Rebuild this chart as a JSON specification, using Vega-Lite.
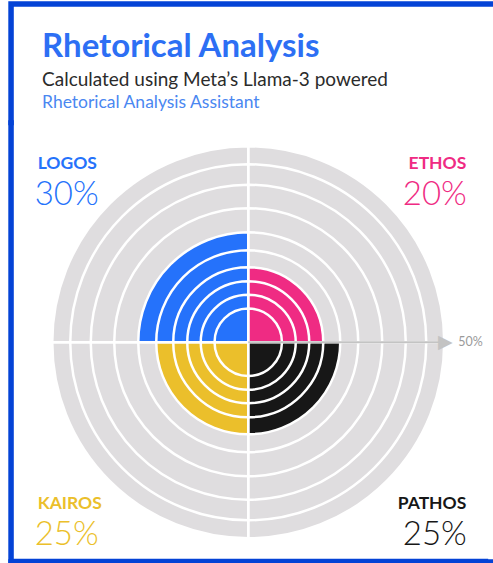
{
  "$schema": "https://vega.github.io/schema/vega-lite/v6.json",
  "autosize": {"type": "pad"},
  "padding": {"left": 7.05, "top": 0.05, "right": 0, "bottom": 0.5},
  "background": "white",
  "spacing": 0,
  "bounds": "flush",
  "config": {"font": "Lato", "view": {"stroke": null}},
  "datasets": {
    "shares": [
      {"cat": "ETHOS", "pct": 0.20, "hi": [0.05, 0.1, 0.15, 0.2, 0.25, 0.3, 0.35, 0.4, 0.45, 0.5]},
      {"cat": "PATHOS", "pct": 0.25, "hi": [0.05, 0.1, 0.15, 0.2, 0.25, 0.3, 0.35, 0.4, 0.45, 0.5]},
      {"cat": "KAIROS", "pct": 0.25, "hi": [0.05, 0.1, 0.15, 0.2, 0.25, 0.3, 0.35, 0.4, 0.45, 0.5]},
      {"cat": "LOGOS", "pct": 0.30, "hi": [0.05, 0.1, 0.15, 0.2, 0.25, 0.3, 0.35, 0.4, 0.45, 0.5]}
    ],
    "scaleMax": [{"v": 0.5}]
  },
  "vconcat": [
    {
      "width": 480.4,
      "height": 118.5,
      "data": {"values": []},
      "mark": "text",
      "view": {"stroke": "#0443d6", "strokeWidth": 5.5, "strokeCap": "square", "strokeDash": [480.4, 598.9, 118.5, 0]},
      "title": {
        "text": "Rhetorical Analysis",
        "subtitle": "Calculated using Meta’s Llama-3 powered",
        "anchor": "start",
        "frame": "group",
        "orient": "top",
        "offset": -86.2,
        "dx": 31,
        "font": "Lato",
        "fontSize": 33,
        "fontWeight": "bold",
        "color": "#2d6ff4",
        "subtitleFont": "Lato",
        "subtitleFontSize": 19,
        "subtitleColor": "#2b2b2b",
        "subtitlePadding": 7
      }
    },
    {
      "width": 474.4,
      "height": 438.4,
      "view": {"stroke": "#0443d6", "strokeWidth": 5.5, "strokeCap": "square", "strokeDash": [0, 912.8, 912.8, 0]},
      "title": {
        "text": "Rhetorical Analysis Assistant",
        "anchor": "start",
        "frame": "group",
        "orient": "top",
        "offset": 11.5,
        "dx": 31,
        "font": "Lato",
        "fontSize": 17.5,
        "fontWeight": "normal",
        "color": "#4a87f1"
      },
      "data": {"name": "shares"},
      "layer": [
        {
          "transform": [{"flatten": ["hi"]}],
          "mark": {"type": "arc", "stroke": "white", "strokeWidth": 2.5},
          "encoding": {
            "theta": {"field": "cat", "type": "nominal", "sort": ["ETHOS", "PATHOS", "KAIROS", "LOGOS"],
              "scale": {"type": "band", "paddingInner": 0, "paddingOuter": 0, "range": [0, 6.283185307]}},
            "radius": {"field": "hi", "type": "quantitative",
              "scale": {"type": "linear", "domain": [0, 0.05, 0.1, 0.15, 0.2, 0.25, 0.3, 0.35, 0.4, 0.45, 0.5],
                "range": [0, 33.7, 47.5, 61, 75, 92, 110, 134, 157.5, 178, 196], "nice": false}},
            "radius2": {"datum": 0},
            "color": {
              "condition": {"test": "datum.hi > datum.pct", "value": "#dfdddf"},
              "field": "cat", "type": "nominal",
              "scale": {"domain": ["ETHOS", "PATHOS", "KAIROS", "LOGOS"], "range": ["#ef2b83", "#171717", "#ebbf2b", "#2572fb"]},
              "legend": null
            },
            "order": {"field": "hi", "sort": "descending"}
          }
        },
        {
          "data": {"name": "scaleMax"},
          "mark": {"type": "arc", "theta": 1.5708, "theta2": 1.5708, "filled": false, "color": "#c3c3c3", "strokeWidth": 2},
          "encoding": {"radius": {"field": "v", "type": "quantitative"}, "radius2": {"datum": 0}}
        },
        {
          "data": {"name": "scaleMax"},
          "mark": {"type": "text", "theta": 1.5708, "font": "DejaVu Sans", "fontSize": 19, "color": "#c3c3c3", "align": "center", "baseline": "middle", "dx": 1},
          "encoding": {"radius": {"field": "v", "type": "quantitative"}, "text": {"value": "▶"}}
        },
        {
          "data": {"name": "scaleMax"},
          "mark": {"type": "text", "theta": 1.5708, "font": "Lato", "fontSize": 12.5, "color": "#9a9a9a", "align": "left", "baseline": "middle", "dx": 14},
          "encoding": {"radius": {"field": "v", "type": "quantitative"}, "text": {"field": "v", "type": "quantitative", "format": ".0%"}}
        },
        {
          "transform": [{"filter": {"field": "cat", "oneOf": ["LOGOS", "KAIROS"]}}],
          "mark": {"type": "text", "radius": 239.8, "align": "left", "baseline": "alphabetic", "dx": -41, "dy": -3.25, "font": "Lato", "fontSize": 17.5, "fontWeight": "bold"},
          "encoding": {
            "theta": {"field": "cat", "type": "nominal", "sort": ["ETHOS", "PATHOS", "KAIROS", "LOGOS"], "bandPosition": 0.5},
            "text": {"field": "cat", "type": "nominal"},
            "color": {"field": "cat", "type": "nominal", "legend": null}
          }
        },
        {
          "transform": [{"filter": {"field": "cat", "oneOf": ["ETHOS", "PATHOS"]}}],
          "mark": {"type": "text", "radius": 239.8, "align": "right", "baseline": "alphabetic", "dx": 48.5, "dy": -3.25, "font": "Lato", "fontSize": 17.5, "fontWeight": "bold"},
          "encoding": {
            "theta": {"field": "cat", "type": "nominal", "sort": ["ETHOS", "PATHOS", "KAIROS", "LOGOS"], "bandPosition": 0.5},
            "text": {"field": "cat", "type": "nominal"},
            "color": {"field": "cat", "type": "nominal", "legend": null}
          }
        },
        {
          "transform": [{"filter": {"field": "cat", "oneOf": ["LOGOS", "KAIROS"]}}],
          "mark": {"type": "text", "radius": 239.8, "align": "left", "baseline": "alphabetic", "dx": -44, "dy": 32.8, "font": "Lato", "fontSize": 33, "fontWeight": 300},
          "encoding": {
            "theta": {"field": "cat", "type": "nominal", "sort": ["ETHOS", "PATHOS", "KAIROS", "LOGOS"], "bandPosition": 0.5},
            "text": {"field": "pct", "type": "quantitative", "format": ".0%"},
            "color": {"field": "cat", "type": "nominal", "legend": null}
          }
        },
        {
          "transform": [{"filter": {"field": "cat", "oneOf": ["ETHOS", "PATHOS"]}}],
          "mark": {"type": "text", "radius": 239.8, "align": "right", "baseline": "alphabetic", "dx": 49, "dy": 32.8, "font": "Lato", "fontSize": 33, "fontWeight": 300},
          "encoding": {
            "theta": {"field": "cat", "type": "nominal", "sort": ["ETHOS", "PATHOS", "KAIROS", "LOGOS"], "bandPosition": 0.5},
            "text": {"field": "pct", "type": "quantitative", "format": ".0%"},
            "color": {"field": "cat", "type": "nominal", "legend": null}
          }
        }
      ]
    },
    {
      "width": 480.4,
      "height": 0,
      "data": {"values": []},
      "mark": "text",
      "view": {"stroke": "#0443d6", "strokeWidth": 5.5, "strokeCap": "square", "strokeDash": [480.4, 480.4]}
    }
  ]
}
